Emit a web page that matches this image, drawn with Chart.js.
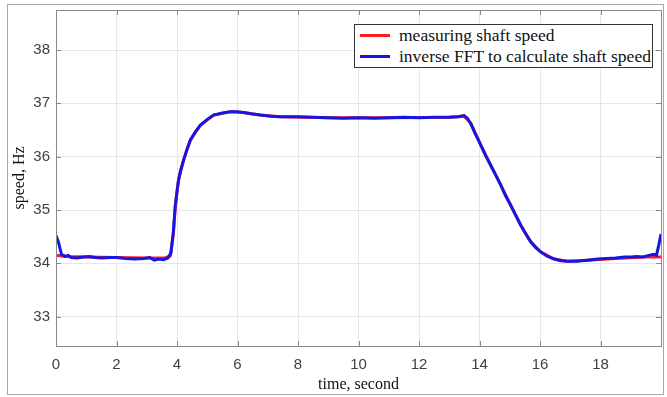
<!DOCTYPE html>
<html>
<head>
<meta charset="utf-8">
<script src="https://cdn.jsdelivr.net/npm/chart.js@4.4.1/dist/chart.umd.min.js"></script>
<style>
    html, body { margin: 0; padding: 0; background: #fff; }
    #wrap { position: relative; width: 667px; height: 397px; }
    #frame { position: absolute; left: 7px; top: 4px; width: 655px; height: 389px; border: 1px solid #a8a8a8; pointer-events: none; }
    #legend { position: absolute; left: 354px; top: 24px; width: 297px; height: 42px; border: 1px solid #333; background: #fff;
        font-family: "Liberation Serif", "Times New Roman", serif; font-size: 17.5px; color: #111; }
    #legend .row { display: flex; align-items: center; height: 21px; padding-left: 5px; white-space: nowrap; }
    #legend .swatch { width: 30px; height: 3px; margin-right: 9px; }
</style>
</head>
<body>
<div id="wrap">
    <canvas id="speedChart" width="667" height="397"></canvas>
    <div id="frame"></div>
    <div id="legend"></div>
</div>
<script>
// measuring shaft speed (red)
const timeMeasured = [0, 0.3, 1, 2, 3, 3.6, 3.78, 3.88, 3.94, 4.05, 4.22, 4.44, 4.77, 5.21, 5.76, 6.2, 6.75, 7.42, 9, 11, 13, 13.49, 13.71, 14.04, 14.37, 14.7, 15.03, 15.36, 15.7, 16.03, 16.47, 16.91, 17.57, 18.5, 19.5, 20];
const speedMeasured = [34.15, 34.13, 34.12, 34.11, 34.10, 34.10, 34.14, 34.55, 35.05, 35.56, 35.94, 36.31, 36.59, 36.78, 36.84, 36.83, 36.78, 36.75, 36.73, 36.73, 36.74, 36.76, 36.63, 36.22, 35.84, 35.47, 35.09, 34.72, 34.40, 34.21, 34.08, 34.04, 34.06, 34.09, 34.12, 34.12];

// inverse FFT estimate (blue)
const timeFFT = [0, 0.08, 0.18, 0.3, 0.4, 0.5, 0.7, 0.9, 1.1, 1.3, 1.5, 1.8, 2.0, 2.3, 2.6, 2.9, 3.1, 3.25, 3.4, 3.55, 3.7, 3.8, 3.88, 3.94, 4.0, 4.05, 4.12, 4.22, 4.32, 4.44, 4.6, 4.77, 5.0, 5.21, 5.5, 5.76, 6.0, 6.2, 6.5, 6.75, 7.1, 7.42, 8.0, 8.5, 9.0, 9.5, 10.0, 10.5, 11.0, 11.5, 12.0, 12.5, 13.0, 13.3, 13.49, 13.6, 13.71, 13.85, 14.04, 14.2, 14.37, 14.55, 14.7, 14.85, 15.03, 15.2, 15.36, 15.53, 15.7, 15.85, 16.03, 16.25, 16.47, 16.7, 16.91, 17.2, 17.57, 17.9, 18.2, 18.5, 18.8, 19.0, 19.2, 19.4, 19.6, 19.75, 19.85, 19.93, 20.0];
const speedFFT = [34.52, 34.40, 34.17, 34.13, 34.15, 34.11, 34.10, 34.12, 34.13, 34.11, 34.10, 34.11, 34.11, 34.09, 34.08, 34.09, 34.11, 34.06, 34.08, 34.07, 34.10, 34.20, 34.60, 35.06, 35.35, 35.56, 35.75, 35.94, 36.12, 36.31, 36.46, 36.59, 36.70, 36.78, 36.82, 36.84, 36.84, 36.83, 36.80, 36.78, 36.76, 36.75, 36.75, 36.74, 36.73, 36.72, 36.73, 36.72, 36.73, 36.74, 36.73, 36.74, 36.74, 36.75, 36.77, 36.72, 36.62, 36.44, 36.22, 36.02, 35.84, 35.64, 35.47, 35.28, 35.09, 34.90, 34.72, 34.55, 34.40, 34.30, 34.21, 34.13, 34.08, 34.05, 34.04, 34.04, 34.06, 34.08, 34.09, 34.10, 34.12, 34.12, 34.13, 34.12, 34.15, 34.17, 34.15, 34.35, 34.55];

const xTicks = [0, 2, 4, 6, 8, 10, 12, 14, 16, 18];
const yTicks = [33, 34, 35, 36, 37, 38];

const seriesLabels = ['measuring shaft speed', 'inverse FFT to calculate shaft speed'];
const seriesColors = ['#ff1c1c', '#1616e4'];

function toPoints(xs, ys) {
    return xs.map(function (x, i) { return { x: x, y: ys[i] }; });
}

// MATLAB style box with inward ticks
const boxPlugin = {
    id: 'box',
    afterDraw: function (chart) {
        const a = chart.chartArea;
        const ctx = chart.ctx;
        const xs = chart.scales.x, ys = chart.scales.y;
        ctx.save();
        ctx.strokeStyle = '#8a8a8a';
        ctx.lineWidth = 1;
        ctx.strokeRect(Math.round(a.left) + 0.5, Math.round(a.top) + 0.5, Math.round(a.right - a.left), Math.round(a.bottom - a.top));
        ctx.beginPath();
        xTicks.forEach(function (t) {
            const px = Math.round(xs.getPixelForValue(t)) + 0.5;
            ctx.moveTo(px, a.bottom); ctx.lineTo(px, a.bottom - 5);
            ctx.moveTo(px, a.top); ctx.lineTo(px, a.top + 5);
        });
        yTicks.forEach(function (t) {
            const py = Math.round(ys.getPixelForValue(t)) + 0.5;
            ctx.moveTo(a.left, py); ctx.lineTo(a.left + 5, py);
            ctx.moveTo(a.right, py); ctx.lineTo(a.right - 5, py);
        });
        ctx.stroke();
        ctx.restore();
    }
};

const tickFont = { family: '"Liberation Sans", Arial, sans-serif', size: 15 };
const titleFont = { family: '"Liberation Serif", "Times New Roman", serif', size: 16 };

new Chart(document.getElementById('speedChart'), {
    type: 'line',
    data: {
        datasets: [
            {
                label: seriesLabels[0],
                data: toPoints(timeMeasured, speedMeasured),
                borderColor: seriesColors[0],
                borderWidth: 3,
                pointRadius: 0,
                order: 1
            },
            {
                label: seriesLabels[1],
                data: toPoints(timeFFT, speedFFT),
                borderColor: seriesColors[1],
                borderWidth: 3,
                pointRadius: 0,
                order: 0
            }
        ]
    },
    options: {
        responsive: false,
        animation: false,
        layout: { padding: { top: 10, right: 6, left: 0, bottom: 0 } },
        plugins: {
            legend: { display: false },
            tooltip: { enabled: false }
        },
        scales: {
            x: {
                type: 'linear',
                min: 0,
                max: 20,
                afterBuildTicks: function (scale) {
                    scale.ticks = xTicks.map(function (v) { return { value: v }; });
                },
                afterFit: function (scale) {
                    scale.height = 51;
                    scale.paddingLeft = 0;
                    scale.paddingRight = 0;
                },
                grid: { color: '#e6e6e6', drawTicks: false },
                border: { display: false },
                ticks: { font: tickFont, color: '#404040', padding: 10, maxRotation: 0 },
                title: { display: true, text: 'time, second', font: titleFont, color: '#111', padding: { top: 0, bottom: 3 } }
            },
            y: {
                type: 'linear',
                min: 32.45,
                max: 38.75,
                afterBuildTicks: function (scale) {
                    scale.ticks = yTicks.map(function (v) { return { value: v }; });
                },
                afterFit: function (scale) {
                    scale.width = 56;
                    scale.paddingTop = 0;
                    scale.paddingBottom = 0;
                },
                grid: { color: '#e6e6e6', drawTicks: false },
                border: { display: false },
                ticks: { font: tickFont, color: '#404040', padding: 6 },
                title: { display: true, text: 'speed, Hz', font: titleFont, color: '#111', padding: { top: 10, bottom: 0 } }
            }
        }
    },
    plugins: [boxPlugin]
});

// legend as html box
const legend = document.getElementById('legend');
seriesLabels.forEach(function (label, i) {
    const row = document.createElement('div');
    row.className = 'row';
    const sw = document.createElement('span');
    sw.className = 'swatch';
    sw.style.background = seriesColors[i];
    const txt = document.createElement('span');
    txt.textContent = label;
    row.appendChild(sw);
    row.appendChild(txt);
    legend.appendChild(row);
});
</script>
</body>
</html>
